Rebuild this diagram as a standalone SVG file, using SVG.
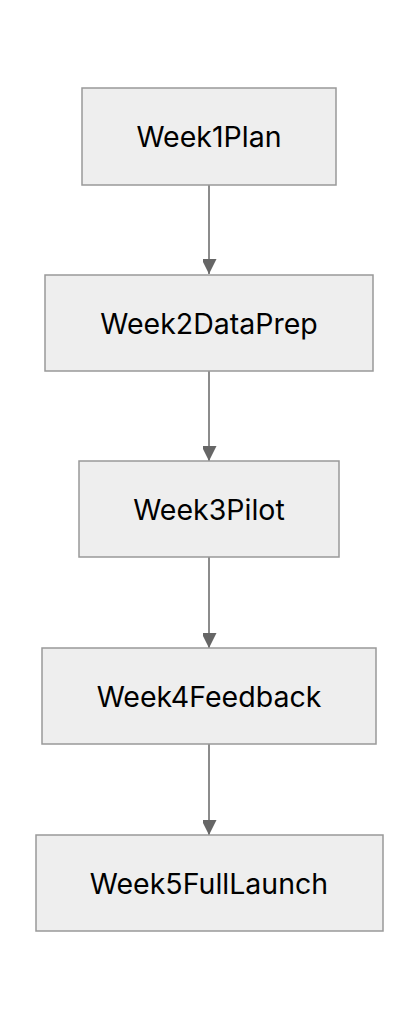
<svg xmlns="http://www.w3.org/2000/svg" width="420" height="1020" viewBox="0 0 420 1020">
<style>
.node rect{fill:#eeeeee;stroke:#999999;stroke-width:1.5}
.node text{font-family:Inter,"Liberation Sans",sans-serif;font-size:28.5px;fill:#000000;text-anchor:middle;dominant-baseline:central}
.edge{stroke:#666666;stroke-width:1.5;fill:none}
</style>
<defs>
<marker id="arr" markerUnits="userSpaceOnUse" markerWidth="16" markerHeight="14" refX="15" refY="7.5" orient="auto">
<path d="M0,0 L15,7.5 L0,15 Z" fill="#666666"/>
</marker>
</defs>
<rect width="420" height="1020" fill="#ffffff"/>
<g id="connectors">
<line class="edge" x1="209" y1="185" x2="209" y2="274" marker-end="url(#arr)"/>
<line class="edge" x1="209" y1="371" x2="209" y2="461" marker-end="url(#arr)"/>
<line class="edge" x1="209" y1="557" x2="209" y2="648" marker-end="url(#arr)"/>
<line class="edge" x1="209" y1="744" x2="209" y2="835" marker-end="url(#arr)"/>
</g>
<g id="Week1Plan" class="node"><rect x="82" y="88" width="254" height="97"/><text x="209" y="136.5">Week1Plan</text></g>
<g id="Week2DataPrep" class="node"><rect x="45" y="275" width="328" height="96"/><text x="209" y="323">Week2DataPrep</text></g>
<g id="Week3Pilot" class="node"><rect x="79" y="461" width="260" height="96"/><text x="209" y="509">Week3Pilot</text></g>
<g id="Week4Feedback" class="node"><rect x="42" y="648" width="334" height="96"/><text x="209" y="696">Week4Feedback</text></g>
<g id="Week5FullLaunch" class="node"><rect x="36" y="835" width="347" height="96"/><text x="209" y="883">Week5FullLaunch</text></g>
</svg>
